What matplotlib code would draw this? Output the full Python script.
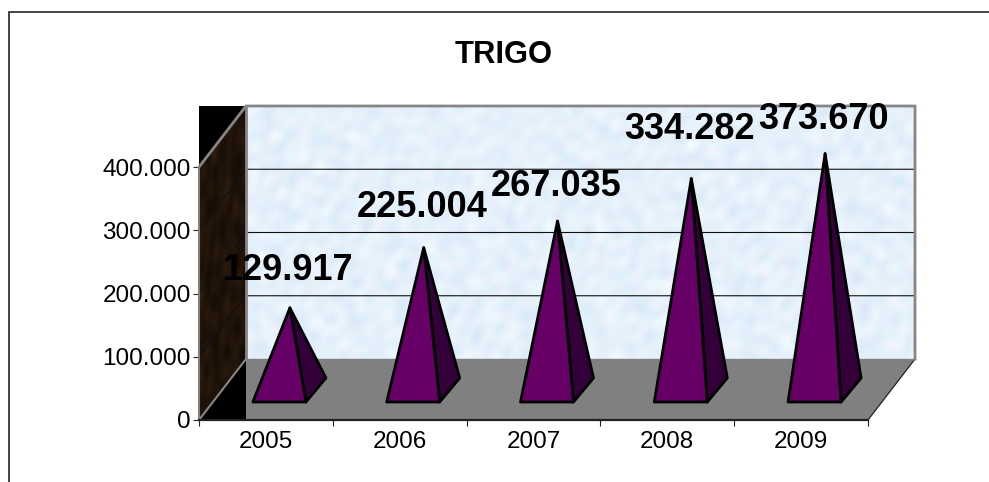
import numpy as np
import matplotlib
matplotlib.use('Agg')
import matplotlib.pyplot as plt
from matplotlib.lines import Line2D
from matplotlib.patches import Polygon, Rectangle

plt.rcParams['font.family'] = ['Liberation Sans', 'DejaVu Sans']

# Dados do grafico
anos = ['2005', '2006', '2007', '2008', '2009']
valores = [129917, 225004, 267035, 334282, 373670]
rotulos = ['129.917', '225.004', '267.035', '334.282', '373.670']
y_ticks = [0, 100000, 200000, 300000, 400000]
y_labels = ['0', '100.000', '200.000', '300.000', '400.000']

W, H = 989, 482
fig = plt.figure(figsize=(W / 100, H / 100), dpi=100)
ax = fig.add_axes([199 / W, (H - 420) / H, 669 / W, 253 / H])
ax.patch.set_alpha(0)

# conversao de pixels para unidades dos eixos
ux = 5 / 669
uy = 400000 / 253
dx = 47 * ux
dy = 61 * uy
x0 = -0.5
x1 = 4.5
y1 = 400000


# textura manchada feita com senos em varias direcoes
def textura(n, m, freq, fase0=0.0, estica=1.0):
    yy, xx = np.mgrid[0:n, 0:m]
    t = np.zeros((n, m))
    for k in range(1, 90):
        ang = k * 2.39996
        f = freq * (0.35 + (k * 0.618034) % 1.0)
        t += np.sin(f * (np.cos(ang) * xx + estica * np.sin(ang) * yy) + k * k * 0.73 + fase0)
    return t / np.abs(t).max()


# parede de fundo com textura azul clara
t = textura(253, 668, 0.30)
t2 = textura(253, 668, 0.55, 1.3)
img = np.zeros((253, 668, 3))
img[..., 0] = 0.900 + 0.06 * t + 0.025 * t2
img[..., 1] = 0.945 + 0.04 * t - 0.02 * t2
img[..., 2] = 0.985 + 0.015 * t
ax.imshow(np.clip(img, 0, 1), extent=[x0 + dx, x1 + dx, dy, y1 + dy], aspect='auto',
          zorder=1, clip_on=False, interpolation='bilinear')

# bloco preto e parede lateral de madeira
ax.add_patch(Rectangle((x0, 0), dx, y1 + dy, fc='black', ec='none', zorder=2, clip_on=False))
lateral = Polygon([(x0, 0), (x0 + dx, dy), (x0 + dx, y1 + dy), (x0, y1)], closed=True,
                  fc='none', ec='none', transform=ax.transData)
ax.add_patch(lateral)
m = textura(315, 47, 0.6, 0.5, estica=0.3)
madeira = np.zeros((315, 47, 3))
madeira[..., 0] = 0.125 + 0.06 * m
madeira[..., 1] = 0.075 + 0.04 * m
madeira[..., 2] = 0.035 + 0.025 * m
im_m = ax.imshow(np.clip(madeira, 0, 1), extent=[x0, x0 + dx, 0, y1 + dy], aspect='auto', zorder=3,
                 interpolation='bilinear')
im_m.set_clip_path(lateral)
im_m.set_clip_box(fig.bbox)

# chao
chao = [(x0 + dx, 0), (x1, 0), (x1 + dx, dy), (x0 + dx, dy)]
ax.add_patch(Polygon(chao, closed=True, fc='#808080', ec='none', zorder=2, clip_on=False))
ax.plot([x1, x1 + dx], [0, dy], color='#222222', lw=0.9, zorder=4, clip_on=False)

# grades
for v in y_ticks[1:-1]:
    ax.plot([x0, x0 + dx, x1 + dx], [v, v + dy, v + dy], color='#111111', lw=0.8, zorder=4, clip_on=False)

# contornos cinza
ax.plot([x0, x0 + dx, x1 + dx, x1 + dx], [y1, y1 + dy, y1 + dy, dy], color='#868686', lw=2, zorder=4,
        clip_on=False, solid_joinstyle='miter')
ax.plot([x0 + dx, x0 + dx], [dy, y1 + dy], color='#868686', lw=2, zorder=4, clip_on=False)
ax.plot([x0, x0 + dx], [0, dy], color='#868686', lw=1.5, zorder=4, clip_on=False)
ax.plot([x0 + dx, x1 + dx], [dy, dy], color='#808080', lw=1, zorder=4, clip_on=False)

# piramides
esq = -13 * ux
dir_ = 40 * ux
prof_x = 20 * ux
prof_y = 24 * uy
base_y = 18 * uy
topo_x = 24 * ux
centro_y = 30 * uy
desloc_rotulo = [28, 31, 25, 40, 25]  # px acima do topo

for i, v in enumerate(valores):
    topo = (i + topo_x, centro_y + v)
    ax.add_patch(Polygon([(i + dir_, base_y), (i + dir_ + prof_x, base_y + prof_y), topo], closed=True,
                         fc='#33003a', ec='black', lw=2, zorder=5, joinstyle='round', clip_on=False))
    ax.add_patch(Polygon([(i + esq, base_y), (i + dir_, base_y), topo], closed=True,
                         fc='#660066', ec='black', lw=2, zorder=6, joinstyle='round', clip_on=False))
    ax.annotate(rotulos[i], xy=topo, xytext=(-1.5 * 0.72, desloc_rotulo[i] * 0.72), textcoords='offset points',
                ha='center', va='baseline', fontsize=26, fontweight='bold', color='black', zorder=7,
                annotation_clip=False)

ax.set_xlim(x0, x1)
ax.set_ylim(0, y1)

# eixos
for lado in ['top', 'right']:
    ax.spines[lado].set_visible(False)
ax.spines['left'].set_color('#808080')
ax.spines['left'].set_linewidth(1.5)
ax.spines['left'].set_zorder(8)
ax.spines['bottom'].set_color('#222222')
ax.spines['bottom'].set_linewidth(1.6)
ax.spines['bottom'].set_zorder(8)

ax.set_yticks(y_ticks)
ax.set_yticklabels(y_labels, fontsize=17.5)
ax.tick_params(axis='y', length=4.5, width=0.8, pad=1.5, color='#222222')

ax.set_xticks(np.arange(6) - 0.5)
ax.set_xticklabels([])
ax.set_xticks(np.arange(5), minor=True)
ax.set_xticklabels(anos, minor=True, fontsize=17.5)
ax.tick_params(axis='x', which='major', length=4.5, width=0.8, color='#222222')
ax.tick_params(axis='x', which='minor', length=0, pad=8)

# titulo e moldura da pagina
fig.text(504 / W, 1 - 55 / H, 'TRIGO', ha='center', va='center', fontsize=22.3, fontweight='bold')
fig.add_artist(Line2D([9 / W, 9 / W, 1], [0, 1 - 12 / H, 1 - 12 / H], color='#222222', lw=1.2,
                      solid_joinstyle='miter'))

fig.savefig('out.png', dpi=100)
